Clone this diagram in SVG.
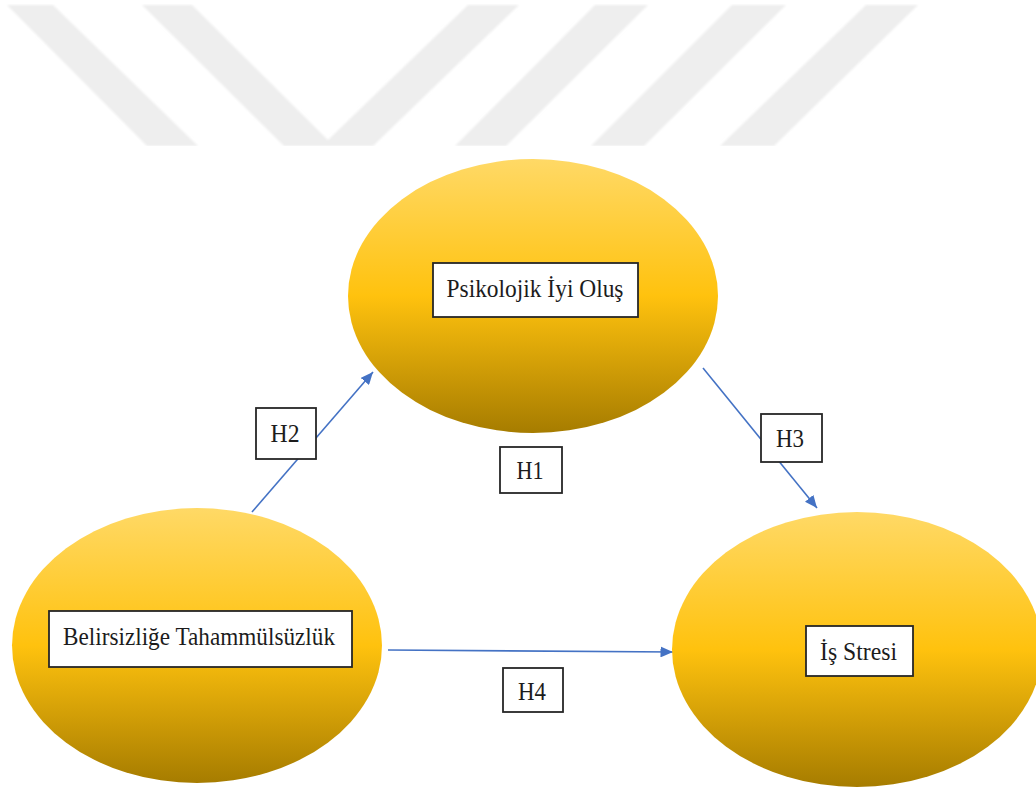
<svg xmlns="http://www.w3.org/2000/svg" width="1036" height="790" viewBox="0 0 1036 790">
  <style>
    .node-shape { fill: url(#goldFill); }
    .label-box { fill: #ffffff; stroke: #262626; stroke-width: 1.8; }
    .label { font-family: "Liberation Serif", "Times New Roman", serif; font-size: 26px; fill: #1c1c1c; text-anchor: middle; }
    .link { stroke: #4472c4; stroke-width: 1.6; fill: none; marker-end: url(#arrow); }
    .mark { fill: #eeeeee; }
  </style>
  <defs>
    <linearGradient id="goldFill" x1="0" y1="0" x2="0" y2="1">
      <stop offset="0" stop-color="#ffd966"/>
      <stop offset="0.5" stop-color="#ffc20e"/>
      <stop offset="1" stop-color="#a67c00"/>
    </linearGradient>
    <marker id="arrow" markerUnits="userSpaceOnUse" markerWidth="13" markerHeight="11" refX="12.5" refY="5.5" orient="auto">
      <path d="M0,0 L12.5,5.5 L0,11 Z" fill="#4472c4"/>
    </marker>
    <filter id="soft" x="-5%" y="-5%" width="110%" height="110%">
      <feGaussianBlur stdDeviation="0.8"/>
    </filter>
    <clipPath id="bandClip">
      <rect x="0" y="4" width="1036" height="142"/>
    </clipPath>
  </defs>

  <!-- light chevron band across the top -->
  <g id="backdrop" clip-path="url(#bandClip)" filter="url(#soft)">
    <polygon class="mark" points="7,5 53,5 198,146 147,146"/>
    <polygon class="mark" points="142,5 192,5 328,140 468,5 519,5 373,146 284,146"/>
    <polygon class="mark" points="595,5 648,5 506,146 455,146"/>
    <polygon class="mark" points="732,5 786,5 644,146 591,146"/>
    <polygon class="mark" points="866,5 918,5 774,146 720,146"/>
  </g>

  <!-- connectors -->
  <g id="connectors">
    <line class="link" x1="252" y1="512" x2="373" y2="372"/>
    <line class="link" x1="703" y1="368" x2="817" y2="508"/>
    <line class="link" x1="388" y1="650" x2="673" y2="652"/>
  </g>

  <!-- nodes -->
  <g id="node-psikolojik">
    <ellipse class="node-shape" cx="533" cy="296" rx="185" ry="137"/>
    <rect class="label-box" x="433" y="263" width="205" height="54"/>
    <text class="label" x="535" y="297" textLength="177" lengthAdjust="spacingAndGlyphs">Psikolojik İyi Oluş</text>
  </g>

  <g id="node-belirsizlik">
    <ellipse class="node-shape" cx="197" cy="645.5" rx="185" ry="137.5"/>
    <rect class="label-box" x="49" y="611" width="303" height="56"/>
    <text class="label" x="199" y="645" textLength="272" lengthAdjust="spacingAndGlyphs">Belirsizliğe Tahammülsüzlük</text>
  </g>

  <g id="node-is-stresi">
    <ellipse class="node-shape" cx="857" cy="649.5" rx="185" ry="137.5"/>
    <rect class="label-box" x="806" y="626" width="107" height="50"/>
    <text class="label" x="858.5" y="660" textLength="77" lengthAdjust="spacingAndGlyphs">İş Stresi</text>
  </g>

  <!-- hypothesis labels -->
  <g id="label-h1">
    <rect class="label-box" x="500" y="447" width="62" height="46"/>
    <text class="label" x="530" y="479" textLength="27" lengthAdjust="spacingAndGlyphs">H1</text>
  </g>
  <g id="label-h2">
    <rect class="label-box" x="256" y="408" width="60" height="51"/>
    <text class="label" x="285" y="442" textLength="29" lengthAdjust="spacingAndGlyphs">H2</text>
  </g>
  <g id="label-h3">
    <rect class="label-box" x="761" y="414" width="61" height="48"/>
    <text class="label" x="790" y="447" textLength="28" lengthAdjust="spacingAndGlyphs">H3</text>
  </g>
  <g id="label-h4">
    <rect class="label-box" x="503" y="668" width="60" height="44"/>
    <text class="label" x="532" y="700" textLength="28" lengthAdjust="spacingAndGlyphs">H4</text>
  </g>
</svg>
